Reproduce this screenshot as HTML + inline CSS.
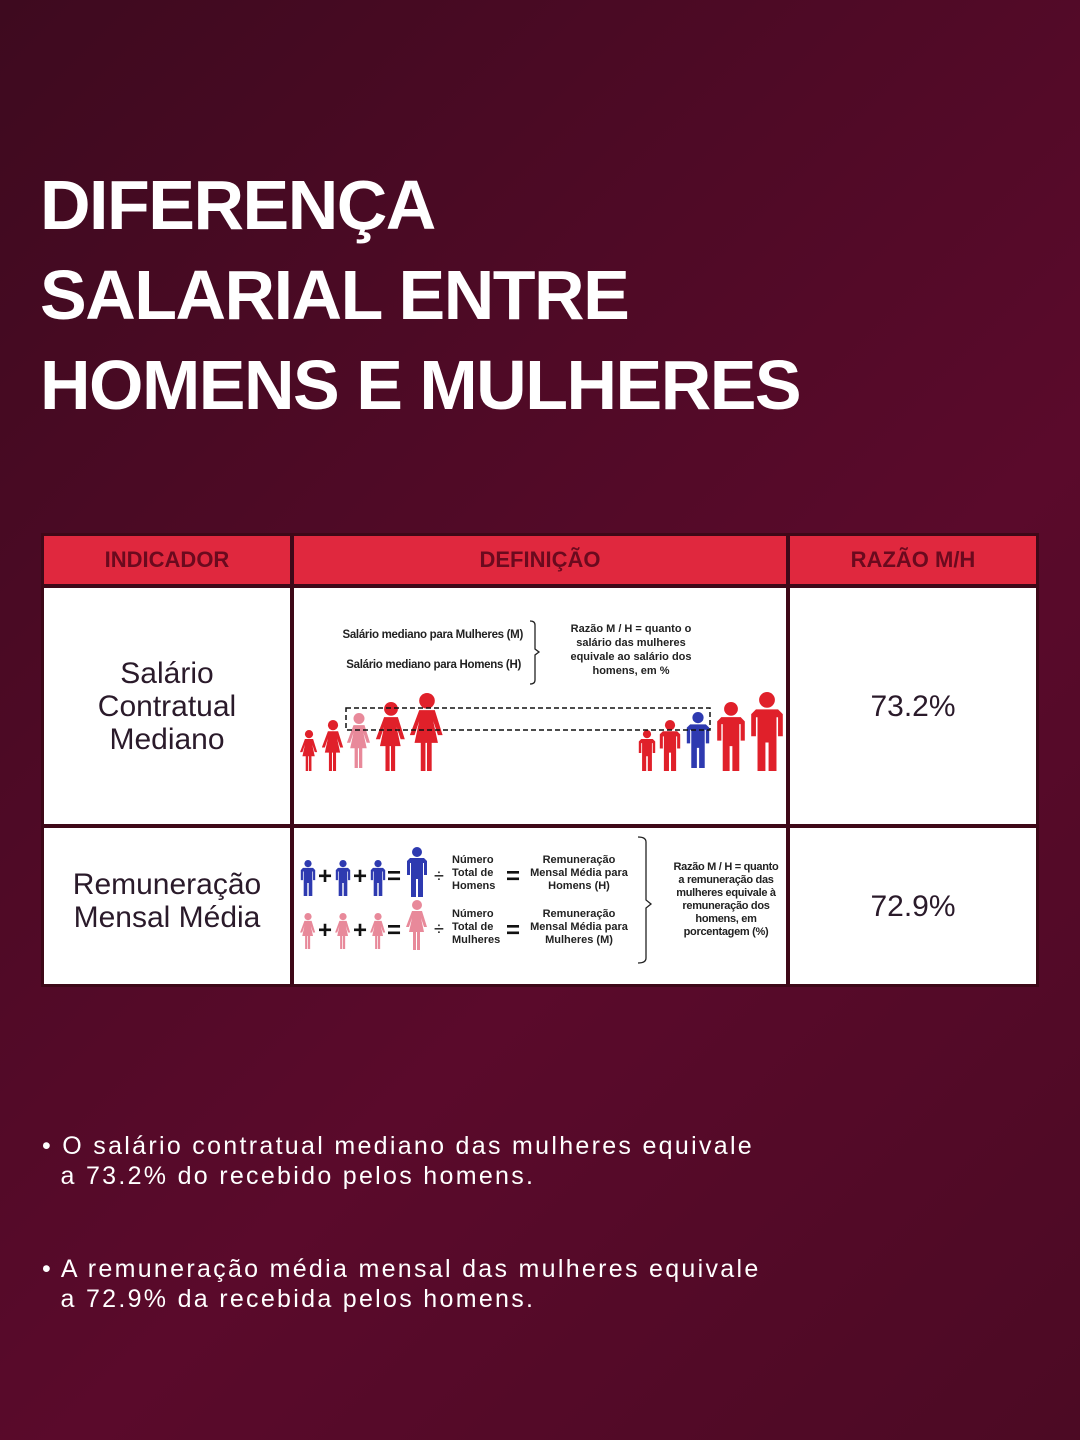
<!DOCTYPE html>
<html><head><meta charset="utf-8"><style>
body{margin:0;width:1080px;height:1440px;overflow:hidden;font-family:"Liberation Sans",sans-serif;
background:linear-gradient(135deg,#3e0a1f 0%,#4f0a26 35%,#5a0a2b 60%,#4c0a24 100%);position:relative}
h1{position:absolute;left:40px;top:160px;margin:0;color:#fff;font-size:70px;line-height:90px;font-weight:bold;letter-spacing:-1.5px}
.tbl{position:absolute;left:41px;top:533px;width:998px;height:454px;background:#3e0818}
.c{position:absolute;background:#fff;display:flex;align-items:center;justify-content:center;text-align:center}
.h{background:#e0283e;color:#6a0a1e;font-weight:bold;font-size:22px}
.big{font-size:30px;color:#2a1a2a;line-height:33px}
.p{position:absolute;color:#fff;font-size:25px;letter-spacing:2.3px;line-height:30px;left:42px}
.sm{position:absolute;font-weight:bold;font-size:11px;color:#222;line-height:13px;text-align:center}
</style></head><body>
<h1>DIFERENÇA<br>SALARIAL ENTRE<br>HOMENS E MULHERES</h1>
<div class="tbl">
<div class="c h" style="left:3px;top:3px;width:246px;height:48px">INDICADOR</div>
<div class="c h" style="left:253px;top:3px;width:492px;height:48px">DEFINIÇÃO</div>
<div class="c h" style="left:749px;top:3px;width:246px;height:48px">RAZÃO M/H</div>
<div class="c big" style="left:3px;top:55px;width:246px;height:236px">Salário<br>Contratual<br>Mediano</div>
<div class="c" style="left:253px;top:55px;width:492px;height:236px"></div>
<div class="c big" style="left:749px;top:55px;width:246px;height:236px">73.2%</div>
<div class="c big" style="left:3px;top:295px;width:246px;height:156px;padding-bottom:10px;box-sizing:border-box">Remuneração<br>Mensal Média</div>
<div class="c" style="left:253px;top:295px;width:492px;height:156px"></div>
<div class="c big" style="left:749px;top:295px;width:246px;height:156px">72.9%</div>
</div>
<svg width="1080" height="1440" style="position:absolute;left:0;top:0">
<defs>
<symbol id="m" viewBox="0 0 20 50"><circle cx="10" cy="5" r="5"/><path d="M3 11h14l3 3v14h-3v-12h-1v34h-5v-18h-2v18h-5v-34h-1v12h-3v-14z"/></symbol>
<symbol id="w" viewBox="0 0 20 50"><circle cx="10" cy="5" r="5"/><path d="M5 11h10l5 16h-3l-3-9 3 14h-4v18h-3v-18h-1v18h-3v-18h-4l3-14-3 9h-3z"/></symbol>
</defs>
<g fill="#e0202a">
<use href="#w" x="300" y="730" width="18" height="41"/>
<use href="#w" x="322" y="720" width="22" height="51"/>
<use href="#w" x="345" y="713" width="28" height="55" fill="#e8899a"/>
<use href="#w" x="374" y="702" width="34" height="69"/>
<use href="#w" x="408" y="693" width="38" height="78"/>
<use href="#m" x="638" y="730" width="18" height="41"/>
<use href="#m" x="658" y="720" width="24" height="51"/>
<use href="#m" x="684" y="712" width="28" height="56" fill="#2e3ab0"/>
<use href="#m" x="714" y="702" width="34" height="69"/>
<use href="#m" x="748" y="692" width="38" height="79"/>
</g>
<rect x="346" y="708" width="364" height="22" fill="none" stroke="#111" stroke-width="1.5" stroke-dasharray="5,3"/>
<path d="M530 621q5 0 5 4v24l4 3-4 3v25q0 4-5 4" fill="none" stroke="#222" stroke-width="1.3"/>
<g fill="#2e3ab0"><use href="#m" x="299" y="860" width="18" height="36"/><use href="#m" x="334" y="860" width="18" height="36"/><use href="#m" x="369" y="860" width="18" height="36"/><use href="#m" x="403" y="847" width="28" height="50"/></g>
<g fill="#e8899a"><use href="#w" x="299" y="913" width="18" height="36"/><use href="#w" x="334" y="913" width="18" height="36"/><use href="#w" x="369" y="913" width="18" height="36"/><use href="#w" x="403" y="900" width="28" height="50"/></g>
<g font-family="Liberation Sans,sans-serif" font-weight="bold" font-size="24" fill="#111">
<text x="318" y="884">+</text><text x="353" y="884">+</text><text x="387" y="884">=</text>
<text x="318" y="938">+</text><text x="353" y="938">+</text><text x="387" y="938">=</text>
<text x="506" y="884">=</text><text x="506" y="938">=</text>
<text x="434" y="882" font-size="18" font-weight="normal">÷</text><text x="434" y="935" font-size="18" font-weight="normal">÷</text>
</g>
<path d="M638 837q8 0 8 5v58l5 4-5 4v50q0 5-8 5" fill="none" stroke="#222" stroke-width="1.3"/>
</svg>
<div class="sm" style="left:300px;top:629px;width:223px;text-align:right;font-size:11.5px;letter-spacing:-0.3px">Salário mediano para Mulheres (M)</div>
<div class="sm" style="left:300px;top:659px;width:221px;text-align:right;font-size:11.5px;letter-spacing:-0.3px">Salário mediano para Homens (H)</div>
<div class="sm" style="left:555px;top:622px;width:152px;line-height:14px">Razão M / H = quanto o salário das mulheres equivale ao salário dos homens, em %</div>
<div class="sm" style="left:452px;top:854px;width:60px;text-align:left">Número<br>Total de<br>Homens</div>
<div class="sm" style="left:452px;top:908px;width:60px;text-align:left">Número<br>Total de<br>Mulheres</div>
<div class="sm" style="left:524px;top:854px;width:110px">Remuneração<br>Mensal Média para<br>Homens (H)</div>
<div class="sm" style="left:524px;top:908px;width:110px">Remuneração<br>Mensal Média para<br>Mulheres (M)</div>
<div class="sm" style="left:664px;top:861px;width:124px;letter-spacing:-0.3px">Razão M / H = quanto<br>a remuneração das<br>mulheres equivale à<br>remuneração dos<br>homens, em<br>porcentagem (%)</div>
<div class="p" style="top:1131px">• O salário contratual mediano das mulheres equivale<br>&nbsp;&nbsp;a 73.2% do recebido pelos homens.</div>
<div class="p" style="top:1254px">• A remuneração média mensal das mulheres equivale<br>&nbsp;&nbsp;a 72.9% da recebida pelos homens.</div>
</body></html>
